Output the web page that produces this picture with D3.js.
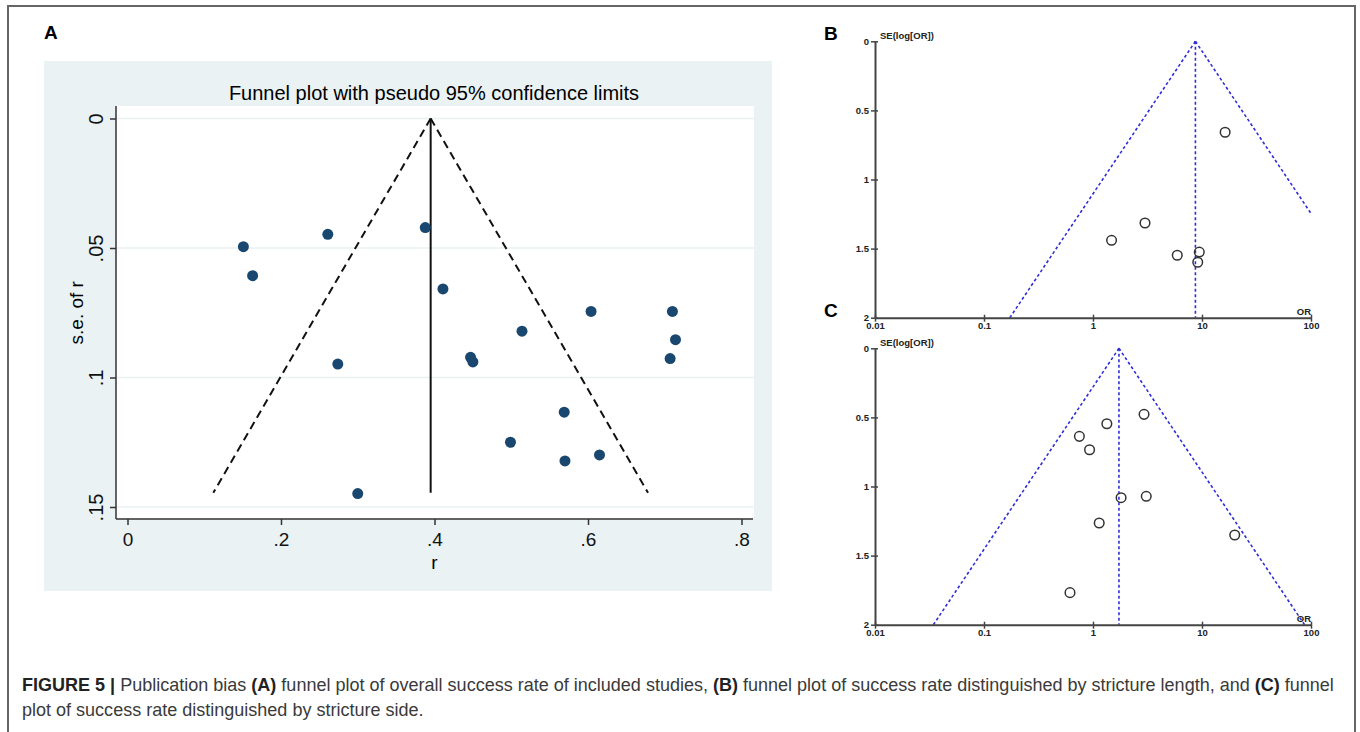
<!DOCTYPE html>
<html>
<head>
<meta charset="utf-8">
<script src="https://cdn.jsdelivr.net/npm/d3@7"></script>
<style>
body { margin: 0; background: #fff; }
svg { display: block; font-family: "Liberation Sans", Arial, sans-serif; }
</style>
</head>
<body>
<script>
//panel A: effect size r and its standard error
var rValues = [0.151, 0.163, 0.261, 0.388, 0.411, 0.274, 0.447, 0.450, 0.514, 0.604, 0.710, 0.714, 0.707, 0.569, 0.499, 0.570, 0.615, 0.300];
var seValues = [0.0495, 0.0607, 0.0447, 0.0421, 0.0658, 0.0948, 0.0922, 0.0940, 0.0821, 0.0745, 0.0745, 0.0854, 0.0927, 0.1134, 0.1250, 0.1322, 0.1299, 0.1448];
var pooledR = 0.395;
var funnelSeMaxA = 0.1445;
var xTicksA = [0, 0.2, 0.4, 0.6, 0.8];
var yTicksA = [0, 0.05, 0.1, 0.15];

//panel B: stricture length
var orB = [16.3, 1.48, 3.0, 5.93, 9.44, 9.14];
var seB = [0.658, 1.44, 1.315, 1.548, 1.525, 1.599];
var pooledB = 8.7;

//panel C: stricture side
var orC = [2.94, 1.34, 0.75, 0.93, 1.81, 3.08, 1.14, 19.97, 0.615];
var seC = [0.478, 0.546, 0.637, 0.734, 1.081, 1.071, 1.264, 1.351, 1.768];
var pooledC = 1.73;

var orTicks = [0.01, 0.1, 1, 10, 100];
var seTicks = [0, 0.5, 1, 1.5, 2];

var width = 1360, height = 732;

var svg = d3.select("body").append("svg")
    .attr("width", width)
    .attr("height", height);

//figure frame (open at the bottom)
svg.append("path")
    .attr("d", "M8,732V6H1355V732")
    .attr("fill", "none")
    .attr("stroke", "#666")
    .attr("stroke-width", 2);

//panel letters
[["A", 44, 39], ["B", 824, 40], ["C", 824, 317]].forEach(function(l){
    svg.append("text")
        .attr("x", l[1]).attr("y", l[2])
        .attr("font-size", 19).attr("font-weight", "bold")
        .text(l[0]);
});

// ---------- panel A (Stata style) ----------
var gA = svg.append("g");

gA.append("rect")
    .attr("x", 44).attr("y", 61)
    .attr("width", 728).attr("height", 530)
    .attr("fill", "#eaf2f3");

gA.append("rect")
    .attr("x", 116).attr("y", 106)
    .attr("width", 638).attr("height", 412)
    .attr("fill", "#fff");

var xA = d3.scaleLinear().domain([0, 0.8]).range([127.5, 741.5]);
var yA = d3.scaleLinear().domain([0, 0.15]).range([118.5, 507]);

//grid lines
gA.selectAll(".gridA")
    .data(yTicksA)
    .enter()
    .append("line")
    .attr("class", "gridA")
    .attr("x1", 117).attr("x2", 754)
    .attr("y1", function(d){ return yA(d); })
    .attr("y2", function(d){ return yA(d); })
    .attr("stroke", "#eaf2f3")
    .attr("stroke-width", 1.5);

function stataFmt(d){
    if (d === 0) return "0";
    return d3.format("")(+d.toFixed(2)).replace(/^0/, "");
}

//y axis
var yAxisA = gA.append("g")
    .attr("transform", "translate(116,0)")
    .call(d3.axisLeft(yA).tickValues(yTicksA).tickFormat(stataFmt).tickSize(6).tickSizeOuter(0));
yAxisA.select(".domain").remove();
yAxisA.selectAll("line").attr("stroke", "#333").attr("stroke-width", 1.5);
yAxisA.selectAll("text")
    .attr("transform", "rotate(-90)")
    .attr("x", 0).attr("y", -13).attr("dy", 0)
    .style("text-anchor", "middle")
    .attr("font-size", 20).attr("font-family", "Liberation Sans, Arial, sans-serif")
    .attr("fill", "#111");

//x axis
var xAxisA = gA.append("g")
    .attr("transform", "translate(0,519)")
    .call(d3.axisBottom(xA).tickValues(xTicksA).tickFormat(stataFmt).tickSize(6).tickPadding(8).tickSizeOuter(0));
xAxisA.select(".domain").remove();
xAxisA.selectAll("line").attr("stroke", "#333").attr("stroke-width", 1.5);
xAxisA.selectAll("text")
    .attr("font-size", 19).attr("font-family", "Liberation Sans, Arial, sans-serif")
    .attr("fill", "#111");

//axis lines
gA.append("line").attr("x1", 116).attr("x2", 116).attr("y1", 106).attr("y2", 519)
    .attr("stroke", "#333").attr("stroke-width", 1.5);
gA.append("line").attr("x1", 116).attr("x2", 753).attr("y1", 519).attr("y2", 519)
    .attr("stroke", "#333").attr("stroke-width", 1.5);

//titles
gA.append("text")
    .attr("x", 434).attr("y", 100)
    .attr("text-anchor", "middle")
    .attr("font-size", 20)
    .text("Funnel plot with pseudo 95% confidence limits");
gA.append("text")
    .attr("transform", "translate(83," + ((yA(0) + yA(0.15)) / 2) + ") rotate(-90)")
    .attr("text-anchor", "middle")
    .attr("font-size", 19)
    .text("s.e. of r");
gA.append("text")
    .attr("x", (xA(0) + xA(0.8)) / 2).attr("y", 569)
    .attr("text-anchor", "middle")
    .attr("font-size", 19)
    .text("r");

//pseudo 95% limits
var limitsA = [
    [[pooledR, 0], [pooledR - 1.96 * funnelSeMaxA, funnelSeMaxA]],
    [[pooledR, 0], [pooledR + 1.96 * funnelSeMaxA, funnelSeMaxA]]
];
var lineA = d3.line()
    .x(function(d){ return xA(d[0]); })
    .y(function(d){ return yA(d[1]); });

gA.selectAll(".limitA")
    .data(limitsA)
    .enter()
    .append("path")
    .attr("class", "limitA")
    .attr("d", lineA)
    .attr("fill", "none")
    .attr("stroke", "#111")
    .attr("stroke-width", 2)
    .attr("stroke-dasharray", "8,5");

gA.append("path")
    .attr("d", lineA([[pooledR, 0], [pooledR, funnelSeMaxA]]))
    .attr("stroke", "#111")
    .attr("stroke-width", 2);

gA.selectAll(".ptA")
    .data(rValues)
    .enter()
    .append("circle")
    .attr("class", "ptA")
    .attr("cx", function(d){ return xA(d); })
    .attr("cy", function(d, i){ return yA(seValues[i]); })
    .attr("r", 5.5)
    .attr("fill", "#1a476f");

// ---------- panels B and C (RevMan style) ----------
function drawRevman(ors, ses, pooled, top){
    var g = svg.append("g");
    var x = d3.scaleLog().domain([0.01, 100]).range([875, 1311]);
    var y = d3.scaleLinear().domain([0, 2]).range([top, top + 276.4]);

    //funnel limits, stopped at the edge of the OR axis
    var lp = Math.log(pooled);
    var seLeft = Math.min(2, (lp - Math.log(0.01)) / 1.96);
    var seRight = Math.min(2, (Math.log(100) - lp) / 1.96);
    var limits = [
        [[pooled, 0], [Math.exp(lp - 1.96 * seLeft), seLeft]],
        [[pooled, 0], [Math.exp(lp + 1.96 * seRight), seRight]],
        [[pooled, 0], [pooled, 2]]
    ];
    var line = d3.line()
        .x(function(d){ return x(d[0]); })
        .y(function(d){ return y(d[1]); });

    g.selectAll(".limit")
        .data(limits)
        .enter()
        .append("path")
        .attr("class", "limit")
        .attr("d", line)
        .attr("fill", "none")
        .attr("stroke", "#2f2fd6")
        .attr("stroke-width", 1.6)
        .attr("stroke-dasharray", "3,2.5");

    var yAx = g.append("g")
        .attr("transform", "translate(875,0)")
        .call(d3.axisLeft(y).tickValues(seTicks).tickFormat(d3.format("")).tickSize(4).tickPadding(2).tickSizeOuter(0));
    yAx.select(".domain").attr("stroke", "#444").attr("stroke-width", 2);
    yAx.selectAll("line").attr("x1", 3).attr("x2", -4).attr("stroke", "#444").attr("stroke-width", 1.5);
    yAx.selectAll("text").attr("font-size", 9.5).attr("font-weight", "bold")
        .attr("font-family", "Liberation Sans, Arial, sans-serif").attr("fill", "#222");

    var xAx = g.append("g")
        .attr("transform", "translate(0," + (top + 276.4) + ")")
        .call(d3.axisBottom(x).tickValues(orTicks).tickFormat(function(d){ return String(d); }).tickSize(4).tickPadding(1).tickSizeOuter(0));
    xAx.select(".domain").attr("stroke", "#444").attr("stroke-width", 2);
    xAx.selectAll("line").attr("y1", -3).attr("y2", 4).attr("stroke", "#444").attr("stroke-width", 1.5);
    xAx.selectAll("text").attr("font-size", 9.5).attr("font-weight", "bold")
        .attr("font-family", "Liberation Sans, Arial, sans-serif").attr("fill", "#222");

    g.append("text")
        .attr("x", 880).attr("y", top - 2)
        .attr("font-size", 9.5).attr("font-weight", "bold").attr("fill", "#222")
        .text("SE(log[OR])");
    g.append("text")
        .attr("x", 1311).attr("y", top + 273.5)
        .attr("text-anchor", "end")
        .attr("font-size", 9.5).attr("font-weight", "bold").attr("fill", "#222")
        .text("OR");

    g.selectAll(".pt")
        .data(ors)
        .enter()
        .append("circle")
        .attr("class", "pt")
        .attr("cx", function(d){ return x(d); })
        .attr("cy", function(d, i){ return y(ses[i]); })
        .attr("r", 4.8)
        .attr("fill", "none")
        .attr("stroke", "#333")
        .attr("stroke-width", 1.5);
}

drawRevman(orB, seB, pooledB, 41.3);
drawRevman(orC, seC, pooledC, 348.3);

// ---------- caption ----------
var caption = [
    [["FIGURE 5 |", true], [" Publication bias ", false], ["(A)", true],
     [" funnel plot of overall success rate of included studies, ", false], ["(B)", true],
     [" funnel plot of success rate distinguished by stricture length, and ", false], ["(C)", true],
     [" funnel", false]],
    [["plot of success rate distinguished by stricture side.", false]]
];
var capLines = svg.selectAll(".cap")
    .data(caption)
    .enter()
    .append("text")
    .attr("class", "cap")
    .attr("x", 22)
    .attr("y", function(d, i){ return 691 + i * 25; })
    .attr("font-size", 16)
    .attr("fill", "#3a3a3a");
capLines.selectAll("tspan")
    .data(function(d){ return d; })
    .enter()
    .append("tspan")
    .attr("font-weight", function(d){ return d[1] ? "bold" : "normal"; })
    .attr("fill", function(d){ return d[1] ? "#222" : "#3a3a3a"; })
    .text(function(d){ return d[0]; });

//fit first caption line to the frame width
var w0 = capLines.node().getComputedTextLength();
var fs = 16 * 1313 / w0;
capLines.attr("font-size", fs);
</script>
</body>
</html>
